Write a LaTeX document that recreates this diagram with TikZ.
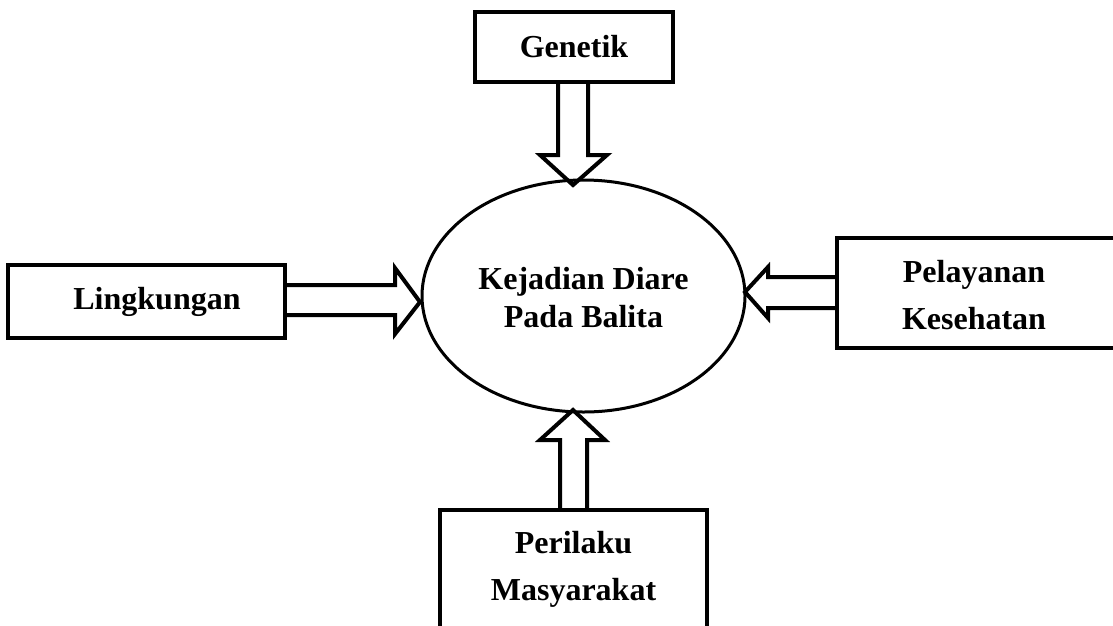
\documentclass[tikz,border=0pt]{standalone}
\usepackage{fontspec}
\setmainfont{Liberation Serif}
\usetikzlibrary{shapes.geometric}
\tikzset{
  boxnode/.style={draw, line width=4pt, rectangle, inner sep=0pt},
  label/.style={align=center, font=\bfseries\fontsize{32}{47}\selectfont, inner sep=0pt},
  ellnode/.style={draw, line width=3pt, ellipse, align=center, font=\bfseries\fontsize{32}{38}\selectfont, inner sep=0pt},
  harrow/.style={draw, line width=4pt, line join=miter, miter limit=10},
}
\begin{document}
\begin{tikzpicture}[x=1pt,y=-1pt]
\useasboundingbox (0,0) rectangle (1113,625);
\node[ellnode, minimum width=323, minimum height=232] (ell) at (583.5,296) {};
\node[ellnode, draw=none] (ellt) at (583.5,298) {Kejadian Diare\\Pada Balita};
\node[boxnode, minimum width=198, minimum height=70] (gen) at (574,47) {};
\node[label] (gent) at (574,47) {Genetik};
\node[boxnode, minimum width=277, minimum height=73] (ling) at (146.5,301.5) {};
\node[label] (lingt) at (157,301.5) {Lingkungan};
\node[boxnode, minimum width=300, minimum height=110] (pel) at (987,293) {};
\node[label] (pelt) at (974,295.5) {Pelayanan\\Kesehatan};
\node[boxnode, minimum width=267, minimum height=140] (per) at (573.5,580) {};
\node[label] (pert) at (573.5,569.5) {Perilaku\\Masyarakat};
% arrow tips on ellipse
\coordinate (tgen) at (573,185);
\coordinate (tling) at (420,302);
\coordinate (tpel) at (745,292);
\coordinate (tper) at (573,410);
\draw[harrow] (558,82) -- (558,155) -- (540,155) -- (tgen) -- (607,155) -- (588,155) -- (588,82);
\draw[harrow] (285,285) -- (395,285) -- (395,268) -- (tling) -- (395,334) -- (395,315) -- (285,315);
\draw[harrow] (837,277) -- (768,277) -- (768,267) -- (tpel) -- (768,318) -- (768,308) -- (837,308);
\draw[harrow] (560,510) -- (560,440) -- (540,440) -- (tper) -- (605,440) -- (587,440) -- (587,510);
\end{tikzpicture}
\end{document}
